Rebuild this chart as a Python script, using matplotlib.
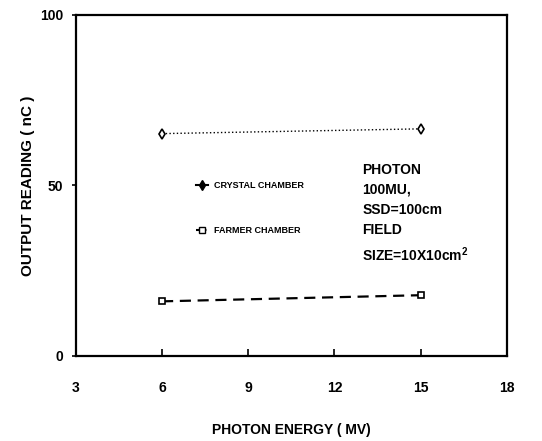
import matplotlib.pyplot as plt
from matplotlib.lines import Line2D

energy = [6, 15]
crystal = [65.2, 66.6]
farmer = [16.0, 17.8]

x_ticks = [3, 6, 9, 12, 15, 18]
y_ticks = [0, 50, 100]

info_text = "PHOTON\n100MU,\nSSD=100cm\nFIELD\nSIZE=10X10cm$^2$"

plt.rcParams['font.family'] = ['Liberation Sans Narrow', 'Liberation Sans', 'DejaVu Sans']
plt.rcParams['font.weight'] = 'bold'
plt.rcParams['mathtext.default'] = 'regular'

fig = plt.figure(figsize=(5.42, 4.41), dpi=100)
ax = fig.add_axes([0.140, 0.193, 0.795, 0.773])

# crystal chamber: thin dotted line
ax.plot(energy, crystal, color="black", linestyle=":", linewidth=1.0,
        marker="d", markersize=5, markerfacecolor="white", markeredgewidth=1.2)
# farmer chamber: dashed line, square markers
ax.plot(energy, farmer, color="black", linestyle=(0, (5, 3)), linewidth=1.6,
        marker="s", markersize=4, markerfacecolor="white", markeredgewidth=1.2)

handles = [
    Line2D([], [], color="black", linewidth=1.5, marker="d", markersize=5),
    Line2D([], [], color="black", linewidth=1.5, linestyle=(0, (2, 1)),
           marker="s", markersize=4, markerfacecolor="white"),
]
ax.legend(handles, ["CRYSTAL CHAMBER", "FARMER CHAMBER"],
          loc="upper left", bbox_to_anchor=(0.259, 0.537), frameon=False,
          handlelength=1.4, handletextpad=0.6, labelspacing=4.0,
          prop={"size": 6.5, "weight": "bold"})

ax.text(0.665, 0.567, info_text, transform=ax.transAxes, fontsize=10,
        fontweight="bold", va="top", ha="left", linespacing=1.55)

ax.set_xlim(3, 18)
ax.set_ylim(0, 100)
ax.set_xticks(x_ticks)
ax.set_yticks(y_ticks)
ax.tick_params(axis="x", direction="in", length=5, width=1.2, pad=18, labelsize=10)
ax.tick_params(axis="y", direction="out", length=3, width=1.2, pad=6, labelsize=10)
for s in ax.spines.values():
    s.set_linewidth(1.6)

ax.set_xlabel("PHOTON ENERGY ( MV)", fontsize=10, fontweight="bold", labelpad=20)
ax.set_ylabel("OUTPUT READING ( nC )", fontsize=11, fontweight="bold", labelpad=4)

fig.savefig("out.png", dpi=100)
